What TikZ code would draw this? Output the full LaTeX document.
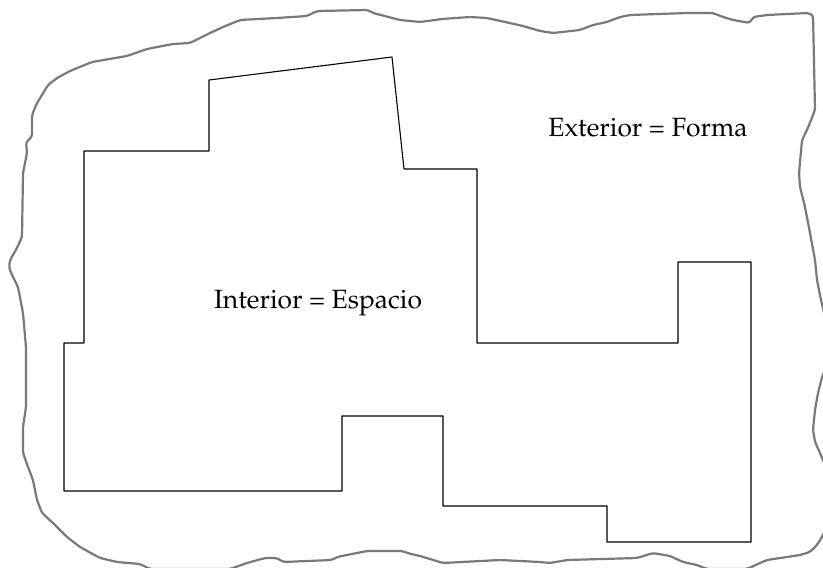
\documentclass[tikz,border=0pt]{standalone}
\usepackage[T1]{fontenc}
\usepackage{mathpazo}
\usepackage{tikz}

\begin{document}
\begin{tikzpicture}[x=0.5pt,y=-0.5pt,line join=round,
    edge/.style={gray!95!black,line width=1.1pt,rounded corners=1.5pt},
    plan/.style={black,line width=0.55pt},
    lbl/.style={font=\fontsize{13.2}{16}\selectfont,anchor=base,inner sep=0pt}]
  \useasboundingbox (0,0) rectangle (823,567);
  \draw[edge] (317,11) -- (368,10) -- (373,13) -- (400,20) -- (420,22) -- (442,19) -- (470,17) -- (487,18)
    -- (523,26) -- (540,31) -- (553,33) -- (580,30) -- (593,25) -- (607,22) -- (620,17) -- (630,15)
    -- (687,13) -- (713,13) -- (723,17) -- (733,20) -- (750,23) -- (753,17) -- (767,15) -- (808,13)
    -- (813,15) -- (815,110) -- (807,130) -- (802,140) -- (799,173) -- (800,187) -- (805,207)
    -- (810,233) -- (815,260) -- (817,280) -- (821,300) -- (825,317) -- (825,370) -- (822,377)
    -- (818,393) -- (815,410) -- (813,430) -- (815,442) -- (820,453) -- (825,465) -- (825,530)
    -- (822,537) -- (817,545) -- (810,552) -- (800,555) -- (787,557) -- (767,560) -- (760,563)
    -- (747,569) -- (707,569) -- (697,565) -- (683,562) -- (670,556) -- (653,553) -- (637,558)
    -- (567,560) -- (550,563) -- (540,562) -- (500,560) -- (443,563) -- (420,556) -- (407,553)
    -- (403,551) -- (367,551) -- (337,557) -- (332,560) -- (283,562) -- (277,558) -- (265,558)
    -- (247,563) -- (230,569) -- (150,569) -- (140,564) -- (117,562) -- (100,558) -- (80,547)
    -- (67,537) -- (53,523) -- (42,513) -- (37,500) -- (33,480) -- (28,467) -- (23,453) -- (23,427)
    -- (26,407) -- (26,347) -- (23,313) -- (18,287) -- (13,277) -- (9,268) -- (10,260) -- (17,248)
    -- (22,237) -- (23,173) -- (27,153) -- (26,142) -- (32,137) -- (32,115) -- (37,103) -- (42,95)
    -- (48,85) -- (57,78) -- (70,71) -- (92,62) -- (127,56) -- (147,49) -- (173,44) -- (190,43)
    -- (210,33) -- (223,27) -- (240,20) -- (277,18) -- (307,16) -- (313,13) -- cycle;
  \draw[plan] (84,151) -- (209,151) -- (209,80) -- (392,57) -- (404,169) -- (477,169) -- (477,343)
    -- (678,343) -- (678,262) -- (751,262) -- (751,542) -- (607,542) -- (607,506) -- (443,506)
    -- (443,416) -- (342,416) -- (342,491) -- (64,491) -- (64,343) -- (84,343) -- cycle;
  \node[lbl] (exterior) at (648,136) {Exterior = Forma};
  \node[lbl] (interior) at (318,308) {Interior = Espacio};
\end{tikzpicture}
\end{document}
